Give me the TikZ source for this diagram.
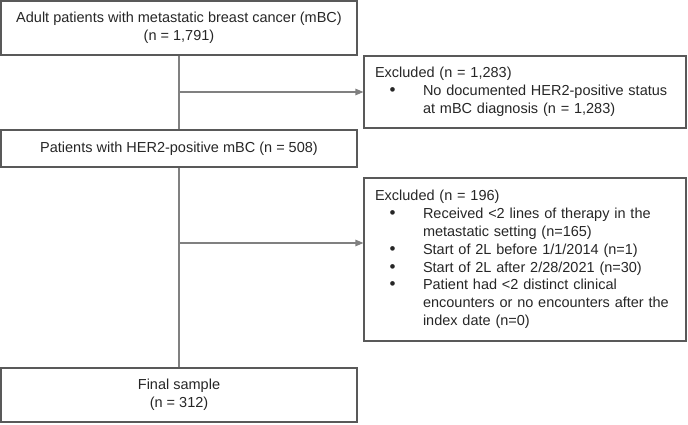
\documentclass[tikz,border=0pt]{standalone}
\usepackage{fontspec}
\setmainfont{Liberation Sans}
\usetikzlibrary{positioning,arrows.meta,calc}
\newcommand{\bitem}{\hspace*{14.5pt}\makebox[33.5pt][l]{\fontsize{17}{17.8}\selectfont\textbullet}}
\newcommand{\bcont}{\hspace*{48pt}}

\begin{document}
\begin{tikzpicture}[
    x=1pt, y=-1pt,
    flowbox/.style={
        rectangle,
        draw=black!65,
        line width=1.1pt,
        minimum width=356pt,
        inner sep=0pt,
        align=center,
        text=black!85,
        font=\fontsize{14.5}{17.8}\selectfont
    },
    exclbox/.style={
        flowbox,
        minimum width=322pt,
        text width=300pt,
        align=left
    },
    link/.style={draw=black!50, line width=1.1pt},
    >={Triangle[length=8pt,width=6.5pt]}
]
\useasboundingbox (0,0) rectangle (688,425);
\node[flowbox, minimum height=54pt] (adults) at (179,28) {Adult patients with metastatic breast cancer (mBC)\\(n = 1,791)};
\node[flowbox, minimum height=37pt] (her2) at (179,148.5) {Patients with HER2-positive mBC (n = 508)};
\node[flowbox, minimum height=54pt] (final) at (179,395) {Final sample\\(n = 312)};
\node[exclbox, minimum height=72pt] (excl1) at (525,92) {Excluded (n = 1,283)\\
\bitem No documented HER2-positive status\\
\bcont at mBC diagnosis (n = 1,283)};
\node[exclbox, minimum height=163pt] (excl2) at (525,259.5) {Excluded (n = 196)\\
\bitem Received <2 lines of therapy in the\\
\bcont metastatic setting (n=165)\\
\bitem Start of 2L before 1/1/2014 (n=1)\\
\bitem Start of 2L after 2/28/2021 (n=30)\\
\bitem Patient had <2 distinct clinical\\
\bcont encounters or no encounters after the\\
\bcont index date (n=0)};
\draw[link] (adults.south) -- (her2.north);
\draw[link] (her2.south) -- (final.north);
\coordinate (cut1) at (179,92);
\coordinate (cut2) at (179,243);
\draw[link,->] (cut1) -- (excl1.west);
\draw[link,->] (cut2) -- (cut2 -| excl2.west);
\end{tikzpicture}
\end{document}
